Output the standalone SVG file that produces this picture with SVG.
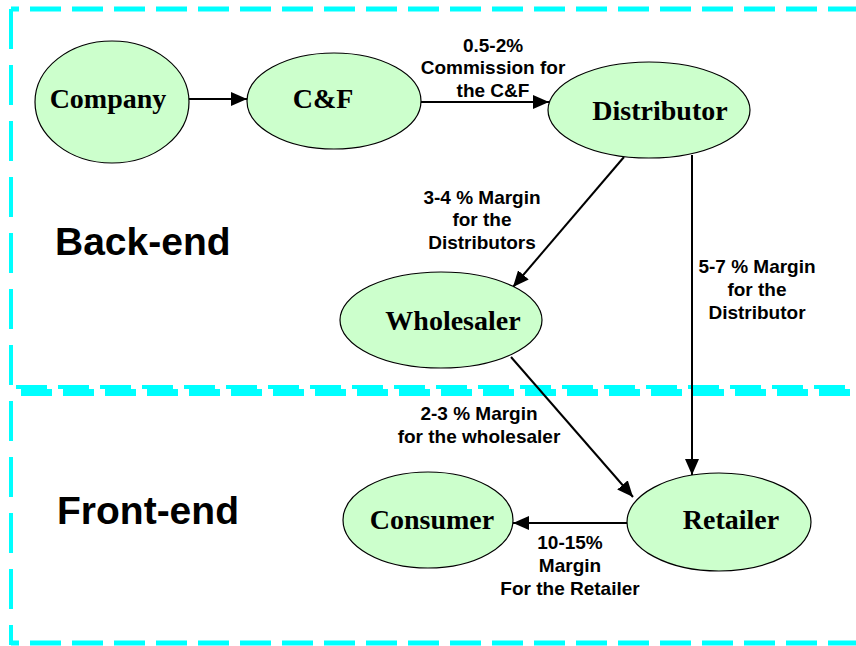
<svg xmlns="http://www.w3.org/2000/svg" width="856" height="646" viewBox="0 0 856 646">
<defs>
<style>
.node{fill:#CCFFCC;stroke:#000;stroke-width:1.2}
.nl{font-family:"Liberation Serif","Times New Roman",serif;font-weight:bold;font-size:28px;fill:#000;text-anchor:middle}
.el{font-family:"Liberation Sans",Arial,sans-serif;font-weight:bold;font-size:19px;fill:#000;text-anchor:middle}
.big{font-family:"Liberation Sans",Arial,sans-serif;font-weight:bold;font-size:39px;fill:#000}
.bd{fill:none;stroke:#00FFFF}
.cn{fill:none;stroke:#000;stroke-width:2}
</style>
<marker id="ah" markerUnits="userSpaceOnUse" markerWidth="16" markerHeight="14" refX="16" refY="7" orient="auto">
<path d="M0,0 L16,7 L0,14 Z" fill="#000"/>
</marker>
</defs>
<rect width="856" height="646" fill="#fff"/>
<g id="borders">
<line class="bd" x1="11" y1="9" x2="856" y2="9" stroke-width="5" stroke-dasharray="31 11" stroke-dashoffset="-19"/>
<line class="bd" x1="11" y1="643" x2="856" y2="643" stroke-width="5" stroke-dasharray="31 11" stroke-dashoffset="-19"/>
<line class="bd" x1="11" y1="9" x2="11" y2="645" stroke-width="4" stroke-dasharray="40 16"/>
<line class="bd" x1="11" y1="387" x2="856" y2="387" stroke-width="4" stroke-dasharray="31 11" stroke-dashoffset="-5"/>
<line class="bd" x1="11" y1="392.5" x2="856" y2="392.5" stroke-width="7" stroke-dasharray="31 11" stroke-dashoffset="-10"/>
</g>
<g id="section-labels">
<text class="big" x="55" y="255">Back-end</text>
<text class="big" x="57" y="524">Front-end</text>
</g>
<g id="connectors">
<line class="cn" x1="189" y1="99" x2="247" y2="99" marker-end="url(#ah)"/>
<line class="cn" x1="421" y1="102" x2="549" y2="102" marker-end="url(#ah)"/>
<line class="cn" x1="624" y1="157" x2="513" y2="287" stroke-width="2.5" marker-end="url(#ah)"/>
<line class="cn" x1="692" y1="155" x2="692" y2="475" stroke-width="1.5" marker-end="url(#ah)"/>
<line class="cn" x1="511" y1="357" x2="633" y2="497" stroke-width="2.5" marker-end="url(#ah)"/>
<line class="cn" x1="627" y1="523" x2="513" y2="523" marker-end="url(#ah)"/>
</g>
<g id="edge-labels">
<text class="el" x="493" y="52">0.5-2%</text>
<text class="el" x="493" y="74">Commission for</text>
<text class="el" x="493" y="97">the C&amp;F</text>
<text class="el" x="482" y="204">3-4 % Margin</text>
<text class="el" x="482" y="226">for the</text>
<text class="el" x="482" y="249">Distributors</text>
<text class="el" x="757" y="273">5-7 % Margin</text>
<text class="el" x="757" y="296">for the</text>
<text class="el" x="757" y="319">Distributor</text>
<text class="el" x="479" y="420">2-3 % Margin</text>
<text class="el" x="479" y="443">for the wholesaler</text>
<text class="el" x="570" y="549">10-15%</text>
<text class="el" x="570" y="572">Margin</text>
<text class="el" x="570" y="595">For the Retailer</text>
</g>
<g id="node-company">
<ellipse class="node" cx="112" cy="102" rx="77" ry="61"/>
<text class="nl" x="108" y="108">Company</text>
</g>
<g id="node-cf">
<ellipse class="node" cx="334" cy="101" rx="87" ry="48"/>
<text class="nl" x="323" y="108">C&amp;F</text>
</g>
<g id="node-distributor">
<ellipse class="node" cx="649" cy="110" rx="101" ry="48"/>
<text class="nl" x="660" y="120">Distributor</text>
</g>
<g id="node-wholesaler">
<ellipse class="node" cx="441" cy="320" rx="101" ry="48"/>
<text class="nl" x="453" y="330">Wholesaler</text>
</g>
<g id="node-consumer">
<ellipse class="node" cx="428" cy="520" rx="85" ry="48"/>
<text class="nl" x="432" y="529">Consumer</text>
</g>
<g id="node-retailer">
<ellipse class="node" cx="719" cy="522" rx="92" ry="49"/>
<text class="nl" x="731" y="529">Retailer</text>
</g>
</svg>
